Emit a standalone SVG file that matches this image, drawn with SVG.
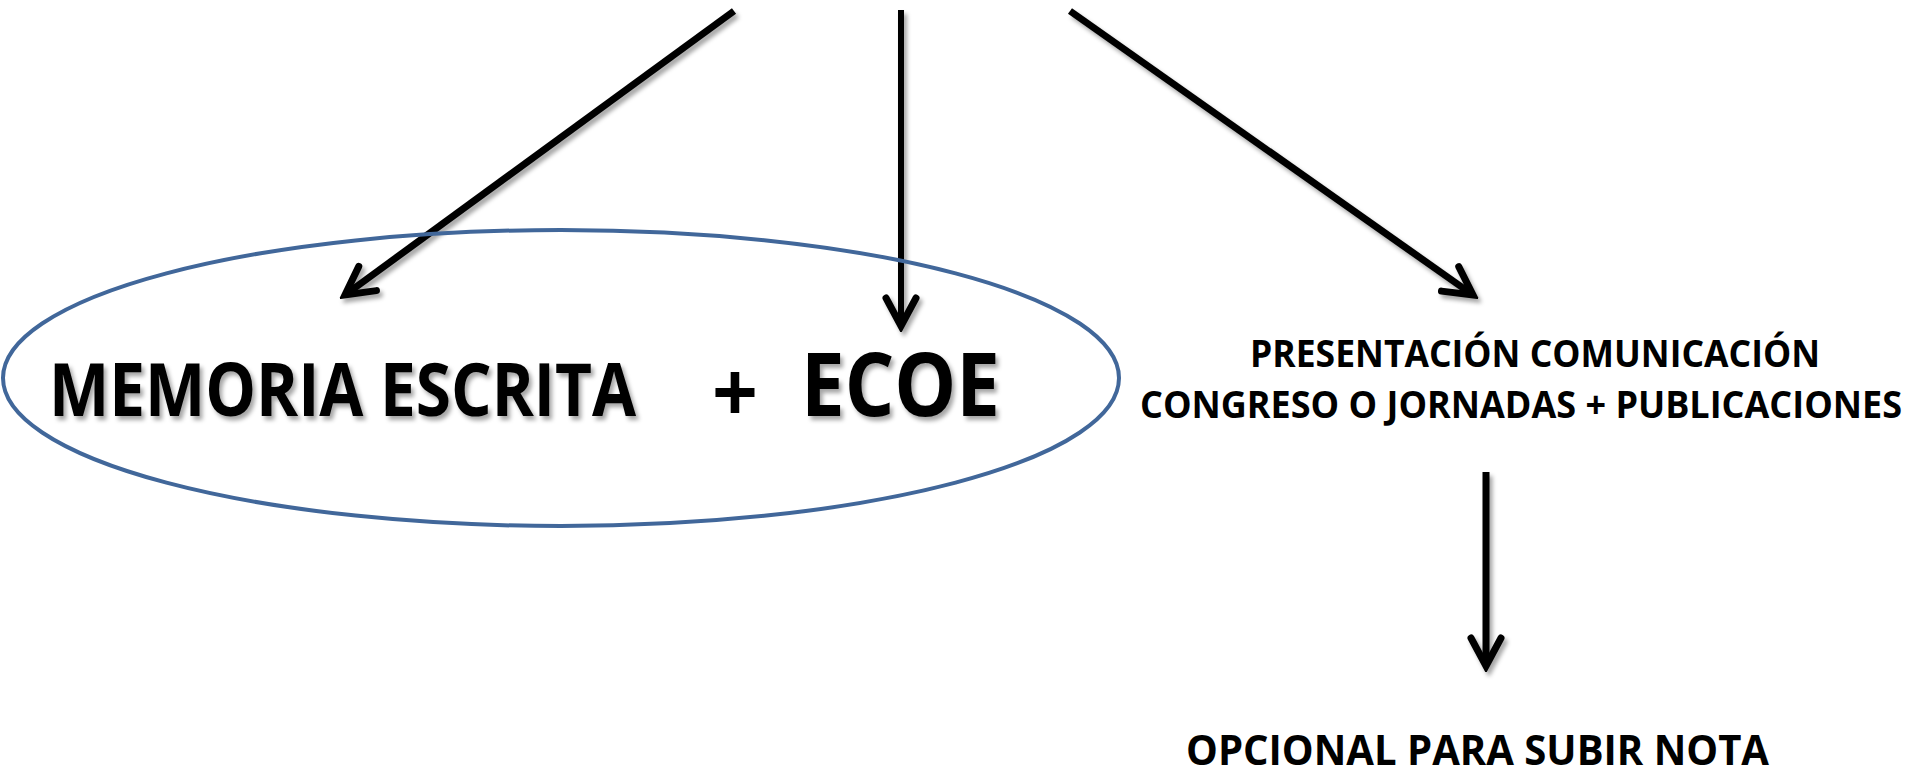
<svg xmlns="http://www.w3.org/2000/svg" width="1913" height="773" viewBox="0 0 1913 773">
<style>
.t{font-family:"Open Sans","Liberation Sans",sans-serif;font-weight:bold;fill:#000}
.c{stroke:#000;stroke-width:7;fill:none;marker-end:url(#ah)}
</style>
<defs>
<filter id="sh" x="-10%" y="-10%" width="130%" height="130%">
<feDropShadow dx="3" dy="4" stdDeviation="2" flood-color="#000" flood-opacity="0.35"/>
</filter>
<marker id="ah" markerUnits="userSpaceOnUse" viewBox="0 0 40 40" markerWidth="40" markerHeight="40" refX="34" refY="20" orient="auto">
<path d="M6,5 L34,20 L6,35" fill="none" stroke="#000" stroke-width="7" stroke-linecap="round" stroke-linejoin="miter"/>
</marker>
</defs>
<g id="connectors" filter="url(#sh)">
<line class="c" x1="734" y1="11" x2="345" y2="295"/>
<line class="c" x1="901" y1="10" x2="901" y2="326" style="stroke-width:6"/>
<line class="c" x1="1070" y1="11" x2="1473" y2="295"/>
<line class="c" x1="1486" y1="472" x2="1486" y2="666"/>
</g>
<g id="ellipse-group">
<ellipse cx="561" cy="378" rx="558" ry="148" fill="none" stroke="#41679A" stroke-width="4"/>
</g>
<g id="memoria" filter="url(#sh)">
<text class="t" x="49" y="416" font-size="74" textLength="587" lengthAdjust="spacingAndGlyphs">MEMORIA ESCRITA</text>
</g>
<g id="plus">
<text x="735" y="422" font-size="84" text-anchor="middle" font-family="Open Sans, Liberation Sans, sans-serif" font-weight="bold" fill="#000" textLength="46" lengthAdjust="spacingAndGlyphs">+</text>
</g>
<g id="ecoe" filter="url(#sh)">
<text class="t" x="801" y="416" font-size="88" textLength="199" lengthAdjust="spacingAndGlyphs">ECOE</text>
</g>
<g id="presentacion">
<text class="t" x="1250" y="367" font-size="37" textLength="570" lengthAdjust="spacingAndGlyphs">PRESENTACIÓN COMUNICACIÓN</text>
<text class="t" x="1140" y="418" font-size="37" textLength="762" lengthAdjust="spacingAndGlyphs">CONGRESO O JORNADAS + PUBLICACIONES</text>
</g>
<g id="opcional">
<text class="t" x="1186" y="765" font-size="42" textLength="583" lengthAdjust="spacingAndGlyphs">OPCIONAL PARA SUBIR NOTA</text>
</g>
</svg>
